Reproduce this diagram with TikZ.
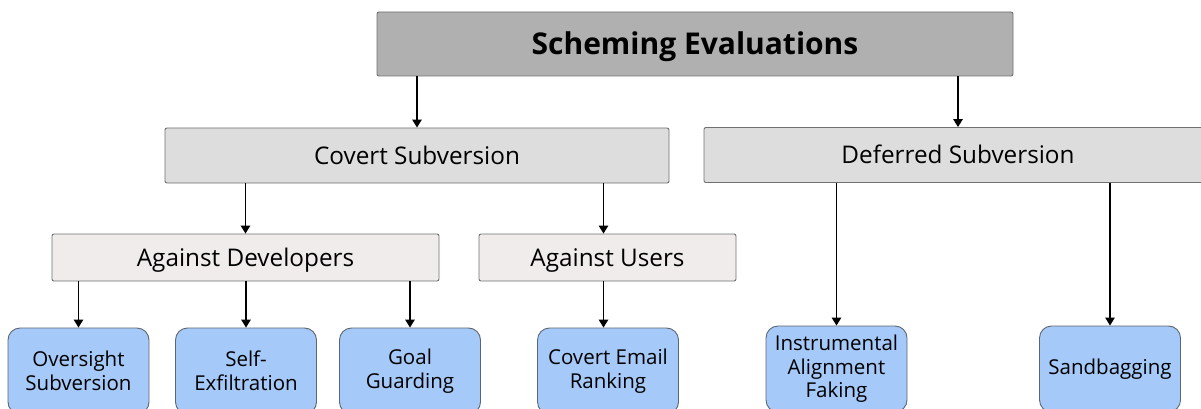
\documentclass[tikz,border=0pt]{standalone}
\usepackage{fontspec}
\setmainfont{Open Sans}
\usetikzlibrary{arrows.meta}
\definecolor{topfill}{HTML}{B0B0B0}
\definecolor{midfill}{HTML}{DDDDDD}
\definecolor{lowfill}{HTML}{EFECEB}
\definecolor{leaffill}{HTML}{A5C9F8}
\definecolor{edgegray}{HTML}{707070}
\definecolor{leafedge}{HTML}{5C6670}
\begin{document}
\begin{tikzpicture}[x=1pt,y=-1pt,
  boxbase/.style={rectangle, draw=edgegray, line width=0.9pt, inner sep=0pt, rounded corners=2pt, text depth=0pt},
  topbox/.style={boxbase, fill=topfill, minimum width=636pt, minimum height=64pt, text height=21.4pt, font=\fontsize{30}{34}\selectfont\bfseries},
  midbox/.style={boxbase, fill=midfill, minimum height=55pt, text height=17.3pt, font=\fontsize{24.3}{28}\selectfont},
  lowbox/.style={boxbase, fill=lowfill, minimum height=47pt, text height=17.3pt, font=\fontsize{24.3}{28}\selectfont},
  leafbox/.style={rectangle, draw=leafedge, line width=0.9pt, fill=leaffill, rounded corners=12pt, inner sep=0pt,
    minimum width=141pt, minimum height=86pt, align=center, font=\fontsize{20.5}{23.5}\selectfont},
  arr/.style={line width=1.4pt, -{Triangle[length=8pt,width=9.5pt]}}
]
\useasboundingbox (0,0) rectangle (1201,409);
\clip (0,0) rectangle (1201,409);

\node[topbox] (top) at (695,44) {Scheming Evaluations};
\node[midbox, minimum width=504pt] (cs) at (417,155.5) {Covert Subversion};
\node[midbox, minimum width=508pt] (ds) at (958,155) {Deferred Subversion};
\node[lowbox, minimum width=387pt] (ad) at (245.5,257.5) {Against Developers};
\node[lowbox, minimum width=257pt] (au) at (607.5,257.5) {Against Users};

\node[leafbox] (ov) at (78.5,371) {Oversight\\Subversion};
\node[leafbox] (se) at (246,371) {Self-\\Exfiltration};
\node[leafbox] (gg) at (410,371) {Goal\\Guarding};
\node[leafbox] (ce) at (608,371) {Covert Email\\Ranking};
\node[leafbox] (ia) at (836.5,369) {Instrumental\\Alignment\\Faking};
\node[leafbox] (sb) at (1110,369) {Sandbagging};

\draw[arr] (top.south -| cs.north) -- (cs.north);
\draw[arr] (top.south -| ds.north) -- (ds.north);
\draw[arr] (cs.south -| ad.north) -- (ad.north);
\draw[arr] ([xshift=-4pt]cs.south -| au.north) -- ([xshift=-4pt]au.north);
\draw[arr] (ad.south -| ov.north) -- (ov.north);
\draw[arr] (ad.south -| se.north) -- (se.north);
\draw[arr] (ad.south -| gg.north) -- (gg.north);
\draw[arr] ([xshift=-4pt]au.south) -- ([xshift=-4pt]au.south |- ce.north);
\draw[arr] (ds.south -| ia.north) -- (ia.north);
\draw[arr] (ds.south -| sb.north) -- (sb.north);
\end{tikzpicture}
\end{document}
